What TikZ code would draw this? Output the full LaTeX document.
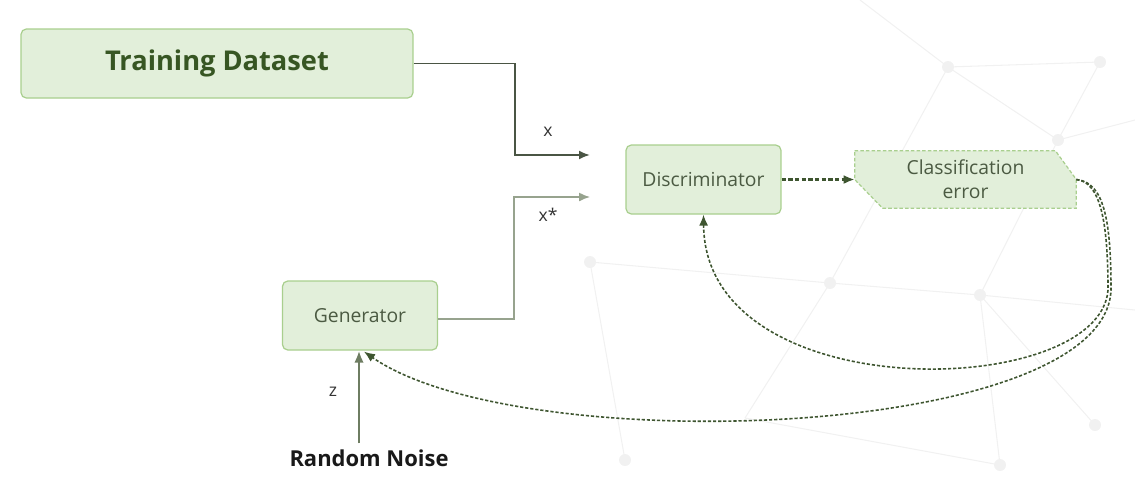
\documentclass[tikz,border=0pt]{standalone}
\usepackage{fontspec}
\setmainfont{Open Sans}
\usepackage{xcolor}
\usepackage{tikz}
\usetikzlibrary{arrows.meta,positioning,calc}
\definecolor{boxfill}{HTML}{E2EFDA}
\definecolor{boxline}{HTML}{A9CF8E}
\definecolor{titlegreen}{HTML}{375623}
\definecolor{boxtext}{HTML}{4B5A42}
\definecolor{darkline}{HTML}{4A5544}
\definecolor{paleline}{HTML}{97A38E}
\definecolor{noiseline}{HTML}{6E7D62}
\definecolor{loopgreen}{HTML}{3E5530}
\definecolor{meshgray}{HTML}{F1F1F1}
\tikzset{
  block/.style={rounded corners=3pt, draw=boxline, fill=boxfill, line width=0.7pt, align=center, text=boxtext, font=\fontsize{11}{13}\selectfont, minimum width=3.1cm, minimum height=1.38cm},
  bigblock/.style={block, text=titlegreen, font=\fontsize{15.5}{18}\selectfont\bfseries, minimum width=7.84cm},
  errbox/.style={align=center, text=boxtext, font=\fontsize{11}{13.5}\selectfont, minimum width=4.42cm, minimum height=1.14cm, inner sep=0pt},
  edgelabel/.style={text=black!80, font=\fontsize{10}{12}\selectfont},
  dataedge/.style={-{Latex[length=2.2mm,width=1.8mm]}, line width=1.1pt, draw=darkline},
  fakeedge/.style={-{Latex[length=2.2mm,width=1.8mm]}, line width=0.8pt, draw=paleline},
  noiseedge/.style={-{Latex[length=2.4mm,width=1.9mm]}, line width=1.4pt, draw=noiseline},
  lossedge/.style={-{Latex[length=2.2mm,width=1.8mm]}, dash pattern=on 2.4pt off 1.4pt, line width=1.3pt, draw=loopgreen},
  backedge/.style={-{Latex[length=2.2mm,width=1.8mm]}, dash pattern=on 1.8pt off 1.1pt, line width=0.9pt, draw=loopgreen},
  mesh/.style={draw=meshgray, line width=0.6pt}
}
\begin{document}
\begin{tikzpicture}[x=0.02cm, y=-0.02cm]
  \useasboundingbox (0,0) rectangle (1135,495);
  % faint mesh in the background
  \foreach \xa/\ya/\xb/\yb in {948/67/1100/62, 948/67/1058/140, 1100/62/1058/140, 948/67/830/283, 1058/140/980/295,
                     830/283/980/295, 590/262/830/283, 980/295/1135/310, 830/283/745/418, 980/295/1095/425,
                     745/418/1000/465, 980/295/1000/465, 590/262/625/460, 860/0/948/67, 1135/120/1058/140}
    \draw[mesh] (\xa,\ya) -- (\xb,\yb);
  \foreach \xp/\yp in {948/67, 1100/62, 1058/140, 830/283, 980/295, 590/262, 1095/425, 1000/465, 625/460}
    \fill[meshgray] (\xp,\yp) circle (6);

  \node[bigblock] (data) at (217,63.5) {Training Dataset};
  \node[block] (disc) at (703.5,179.5) {Discriminator};
  \node[block] (gen) at (360,315.5) {Generator};
  \node[errbox] (err) at (965.5,179.5) {Classification\\error};
  \node[font=\fontsize{12.5}{15}\selectfont\bfseries, text=black!90] (noise) at (369,458) {Random Noise};
  \draw[boxline, fill=boxfill, line width=0.7pt, dash pattern=on 2pt off 1.2pt]
    (err.north west) -- ($(err.north east)+(-21,0)$) -- (err.east) -- (err.south east)
    -- ($(err.south west)+(28,0)$) -- (err.west) -- cycle;
  \node[errbox] at (err) {Classification\\error};

  \coordinate (xin) at (590,155);
  \coordinate (xfake) at (590,197);
  \coordinate (fork) at (1108,290);
  \draw[dataedge] (data.east) -| (515,155) -- (xin);
  \node[edgelabel] (xlab) at (548,132) {x};
  \draw[fakeedge] (gen.east |- 0,319) -| (514,197) -- (xfake);
  \node[edgelabel] (xstar) at (548,215) {x*};
  \draw[noiseedge] (noise.north -| 359,0) -- (gen.south -| 359,0);
  \node[edgelabel] (zlab) at (333,392) {z};

  \draw[lossedge] (disc.east) -- (err.west);
  \draw[backedge] (err.east) .. controls (1100,182) and (1108,220) .. (fork)
    .. controls (1100,400) and (705,410) .. (disc.south);
  \draw[backedge] (err.east) .. controls (1104,182) and (1111,220) .. (1111,290)
    .. controls (1105,440) and (520,460) .. ($(gen.south)+(4,1)$);
\end{tikzpicture}
\end{document}
